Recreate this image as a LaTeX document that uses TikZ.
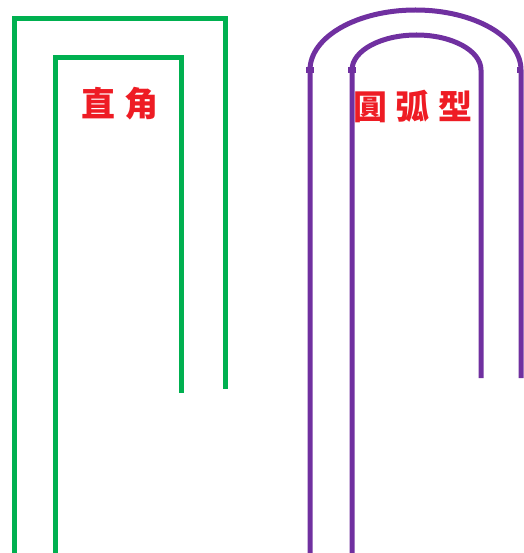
\documentclass[tikz,border=0pt]{standalone}
\usepackage{fontspec}
\newfontfamily\cjk{Noto Sans CJK SC}
\definecolor{grn}{HTML}{00B050}
\definecolor{prp}{HTML}{7030A0}
\definecolor{lbl}{HTML}{EE1C24}
\begin{document}
\begin{tikzpicture}[x=1pt,y=-1pt,
  gline/.style={draw=grn,line width=5pt,line join=miter},
  pline/.style={draw=prp,line width=5pt},
  nub/.style={fill=prp},
  lab/.style={text=lbl,font=\cjk\bfseries\fontsize{34}{34}\selectfont,inner sep=0pt}]
\useasboundingbox (0,0) rectangle (523,553);
% right-angle (green)
\draw[gline] (14,553) -- (14,18.5) -- (225,18.5) -- (225,389);
\draw[gline] (55,553) -- (55,57.5) -- (181,57.5) -- (181,393);
% arc type (purple)
\draw[pline] (310,553) -- (310,70) arc[start angle=180,end angle=360,x radius=105.5,y radius=60] -- (521,378);
\draw[pline] (352,553) -- (352,70) arc[start angle=180,end angle=360,x radius=64.5,y radius=35] -- (481,378);
\fill[nub] (306,67) rectangle (314,73);
\fill[nub] (348,67) rectangle (356,73);
\fill[nub] (517,67) rectangle (523,73);
% labels
\node[lab] (t1) at (120,104) {直\hspace{10pt}角};
\node[lab] (t2) at (413,106) {圓\hspace{9pt}弧\hspace{9pt}型};
\end{tikzpicture}
\end{document}
